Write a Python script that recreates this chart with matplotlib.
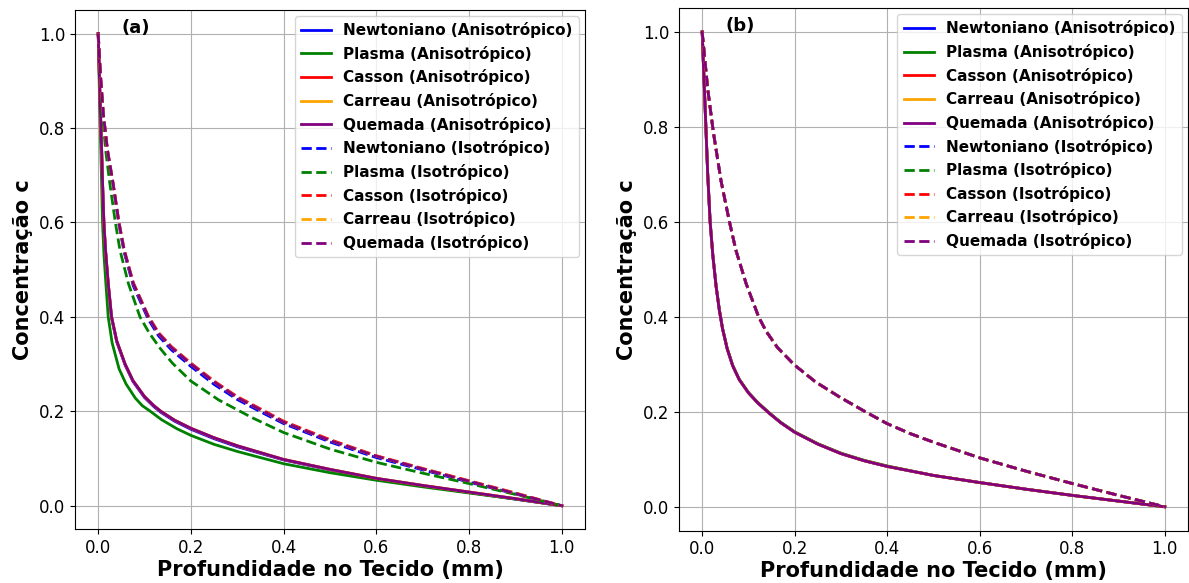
import numpy as np
import matplotlib.pyplot as plt

# ============================================================
# 1. Dados (profundidade x concentração)
# ============================================================
modelos = ['Newtoniano', 'Plasma', 'Casson', 'Carreau', 'Quemada']
cores = ['blue', 'green', 'red', 'orange', 'purple']

# ---- painel (a) : anisotrópico ----
xa_aniso = [0, 0.004, 0.0072, 0.0095, 0.0122, 0.0158, 0.0216, 0.0288, 0.040, 0.058,
            0.075, 0.100, 0.120, 0.135, 0.165, 0.200, 0.250, 0.300, 0.400, 0.500,
            0.600, 0.700, 0.800, 0.900, 1.0]
ca_aniso = [1.0, 0.86, 0.76, 0.68, 0.60, 0.541, 0.471, 0.400, 0.349, 0.300,
            0.265, 0.231, 0.212, 0.200, 0.181, 0.164, 0.144, 0.127, 0.098, 0.077,
            0.058, 0.043, 0.029, 0.015, 0.0]
ca_aniso_newt = [1.0, 0.86, 0.76, 0.68, 0.60, 0.540, 0.469, 0.398, 0.347, 0.298,
                 0.263, 0.229, 0.210, 0.198, 0.179, 0.162, 0.142, 0.125, 0.097, 0.076,
                 0.057, 0.042, 0.028, 0.014, 0.0]

xa_plasma = [0, 0.003, 0.006, 0.0093, 0.0125, 0.0165, 0.0216, 0.030, 0.045, 0.060,
             0.080, 0.095, 0.111, 0.137, 0.170, 0.200, 0.250, 0.300, 0.400, 0.500,
             0.600, 0.700, 0.800, 0.900, 1.0]
ca_plasma_aniso = [1.0, 0.86, 0.74, 0.60, 0.53, 0.471, 0.400, 0.345, 0.290, 0.258,
                   0.228, 0.212, 0.201, 0.182, 0.163, 0.149, 0.130, 0.115, 0.089, 0.070,
                   0.054, 0.040, 0.027, 0.014, 0.0]

# ---- painel (a) : isotrópico ----
xa_iso = [0, 0.005, 0.011, 0.020, 0.032, 0.0446, 0.056, 0.0755, 0.108, 0.130,
          0.158, 0.200, 0.250, 0.300, 0.360, 0.400, 0.500, 0.600, 0.700, 0.800,
          0.900, 1.0]
ca_iso = [1.0, 0.91, 0.83, 0.753, 0.683, 0.600, 0.541, 0.471, 0.400, 0.365,
          0.335, 0.300, 0.262, 0.229, 0.198, 0.177, 0.138, 0.105, 0.078, 0.052,
          0.026, 0.0]
ca_iso_casson = [1.0, 0.91, 0.83, 0.753, 0.684, 0.602, 0.543, 0.473, 0.402, 0.367,
                 0.337, 0.302, 0.264, 0.231, 0.200, 0.179, 0.140, 0.106, 0.079, 0.053,
                 0.027, 0.0]
ca_iso_newt = [1.0, 0.91, 0.83, 0.752, 0.681, 0.597, 0.537, 0.466, 0.395, 0.360,
               0.330, 0.295, 0.257, 0.225, 0.194, 0.174, 0.135, 0.102, 0.076, 0.050,
               0.025, 0.0]

xa_plasma_iso = [0, 0.004, 0.009, 0.016, 0.025, 0.037, 0.047, 0.065, 0.090, 0.110,
                 0.133, 0.160, 0.200, 0.260, 0.331, 0.400, 0.500, 0.600, 0.700, 0.800,
                 0.900, 1.0]
ca_plasma_iso = [1.0, 0.91, 0.83, 0.753, 0.683, 0.600, 0.541, 0.471, 0.400, 0.366,
                 0.334, 0.302, 0.264, 0.224, 0.187, 0.155, 0.120, 0.092, 0.069, 0.047,
                 0.024, 0.0]

# ---- painel (b) ----
xb_aniso = [0, 0.004, 0.008, 0.012, 0.0172, 0.023, 0.030, 0.037, 0.044, 0.054,
            0.066, 0.080, 0.100, 0.120, 0.145, 0.170, 0.200, 0.250, 0.300, 0.350,
            0.400, 0.500, 0.600, 0.700, 0.800, 0.900, 1.0]
cb_aniso = [1.0, 0.90, 0.80, 0.70, 0.60, 0.53, 0.465, 0.415, 0.375, 0.333,
            0.297, 0.268, 0.240, 0.219, 0.197, 0.177, 0.157, 0.132, 0.112, 0.097,
            0.085, 0.066, 0.051, 0.037, 0.024, 0.012, 0.0]
cb_plasma_aniso = [1.0, 0.90, 0.80, 0.70, 0.60, 0.53, 0.466, 0.416, 0.376, 0.334,
                   0.298, 0.269, 0.241, 0.220, 0.198, 0.178, 0.158, 0.133, 0.113, 0.098,
                   0.086, 0.066, 0.051, 0.037, 0.024, 0.012, 0.0]

xb_iso = [0, 0.005, 0.012, 0.024, 0.041, 0.059, 0.073, 0.095, 0.122, 0.138,
          0.163, 0.199, 0.245, 0.299, 0.353, 0.400, 0.450, 0.500, 0.600, 0.700,
          0.800, 0.900, 1.0]
cb_iso = [1.0, 0.95, 0.88, 0.79, 0.685, 0.600, 0.540, 0.470, 0.400, 0.370,
          0.335, 0.299, 0.263, 0.230, 0.200, 0.175, 0.154, 0.136, 0.103, 0.075,
          0.049, 0.024, 0.0]

painel_a = {
    'aniso': [(xa_aniso, ca_aniso_newt), (xa_plasma, ca_plasma_aniso),
              (xa_aniso, ca_aniso), (xa_aniso, ca_aniso), (xa_aniso, ca_aniso)],
    'iso': [(xa_iso, ca_iso_newt), (xa_plasma_iso, ca_plasma_iso),
            (xa_iso, ca_iso_casson), (xa_iso, ca_iso), (xa_iso, ca_iso)],
}
painel_b = {
    'aniso': [(xb_aniso, cb_aniso), (xb_aniso, cb_plasma_aniso),
              (xb_aniso, cb_aniso), (xb_aniso, cb_aniso), (xb_aniso, cb_aniso)],
    'iso': [(xb_iso, cb_iso)] * 5,
}

# ============================================================
# 2. Figura
# ============================================================
fig = plt.figure(figsize=(11.89, 5.83), dpi=100)
ax_a = fig.add_axes([0.0631, 0.092, 0.4289, 0.891])
ax_b = fig.add_axes([0.5711, 0.090, 0.4280, 0.896])

for ax, dados, letra in [(ax_a, painel_a, '(a)'), (ax_b, painel_b, '(b)')]:
    for (x, c), nome, cor in zip(dados['aniso'], modelos, cores):
        ax.plot(x, c, '-', color=cor, linewidth=2, label=f'{nome} (Anisotrópico)')
    for (x, c), nome, cor in zip(dados['iso'], modelos, cores):
        ax.plot(x, c, '--', color=cor, linewidth=2, label=f'{nome} (Isotrópico)')

    ax.set_xlabel('Profundidade no Tecido (mm)', fontsize=15, fontweight='bold', labelpad=2)
    ax.set_ylabel('Concentração c', fontsize=15, fontweight='bold')
    ax.tick_params(labelsize=12)
    ax.set_xticks(np.arange(0, 1.01, 0.2))
    ax.set_yticks(np.arange(0, 1.01, 0.2))
    ax.grid(True)
    ax.text(0.12, 0.965, letra, transform=ax.transAxes, fontsize=13,
            fontweight='bold', ha='center', va='center')
    ax.legend(loc='upper right', prop={'weight': 'bold', 'size': 11},
              labelspacing=0.5, borderaxespad=0.4)

fig.savefig('out.png', dpi=100)
